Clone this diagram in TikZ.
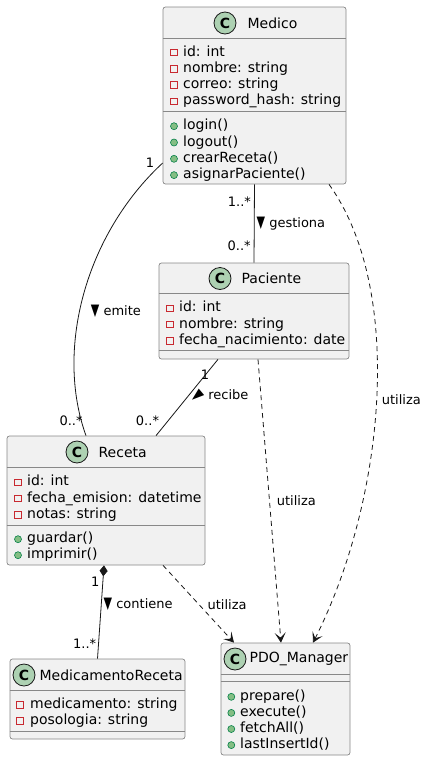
\documentclass[tikz,border=0pt]{standalone}
\usepackage{fontspec}
\setmainfont{DejaVu Sans}
\usepackage{graphicx}
\usepackage{tikz}
\usetikzlibrary{arrows.meta, positioning, calc}

\definecolor{boxfill}{HTML}{F1F1F1}
\definecolor{boxline}{HTML}{888888}
\definecolor{circfill}{HTML}{ADD1B2}
\definecolor{edgecol}{HTML}{181818}
\definecolor{privred}{HTML}{C82930}
\definecolor{pubfill}{HTML}{84BE84}
\definecolor{publine}{HTML}{038048}

\newcommand{\dirdown}{\scalebox{0.85}[1.25]{▼}}
\newcommand{\dirrecv}{\rotatebox[origin=c]{40}{\scalebox{1.25}[0.85]{◀}}}

\begin{document}
\begin{tikzpicture}[x=1pt, y=-1pt,
    classbox/.style={draw=boxline, fill=boxfill, rounded corners=2.5pt, line width=0.7pt, inner sep=0},
    classicon/.style={circle, draw=edgecol, fill=circfill, line width=0.8pt, minimum size=22pt, inner sep=0, font=\bfseries\fontsize{14}{14}\selectfont},
    classname/.style={inner sep=0, font=\fontsize{14}{16}\selectfont},
    member/.style={anchor=west, inner sep=0, text height=11pt, text depth=1pt, font=\fontsize{14}{16}\selectfont},
    priv/.style={rectangle, draw=privred, line width=0.8pt, minimum size=6.5pt, inner sep=0},
    publ/.style={circle, draw=publine, fill=pubfill, line width=0.6pt, minimum size=7pt, inner sep=0},
    divider/.style={draw=boxline, line width=0.7pt},
    link/.style={draw=edgecol, line width=0.8pt},
    uses/.style={link, dash pattern=on 5pt off 4pt, -{Stealth[length=10pt, width=11pt, inset=5pt]}},
    lbl/.style={inner sep=1pt, font=\fontsize{13}{15}\selectfont}]
  \fill[white] (0,0) rectangle (427,761);
  \useasboundingbox (0,0) rectangle (427,761);

  % Medico
  \node[classbox, minimum width=183pt, minimum height=177pt] (medico) at (254.5,95.5) {};
  \node[classicon] (medico-c) at (225,23) {C};
  \node[classname, right=11pt of medico-c] (medico-n) {Medico};
  \draw[divider] ($(medico.north west)+(0,32)$) -- ($(medico.north east)+(0,32)$);
  \draw[divider] ($(medico.north west)+(0,105)$) -- ($(medico.north east)+(0,105)$);
  \foreach \txt [count=\i from 0] in {id: int, nombre: string, correo: string, password\_hash: string} {
    \node[priv] (medico-pa\i) at (174, 52.5+16.3*\i) {};
    \node[member] (medico-a\i) at (183, 51+16.3*\i) {\txt};
  }
  \foreach \txt [count=\i from 0] in {login(), logout(), crearReceta(), asignarPaciente()} {
    \node[publ] (medico-pm\i) at (174, 126.2+16.3*\i) {};
    \node[member] (medico-m\i) at (183, 124.7+16.3*\i) {\txt};
  }

  % Paciente
  \node[classbox, minimum width=190pt, minimum height=96pt] (paciente) at (254,311) {};
  \node[classicon] (paciente-c) at (220,278.5) {C};
  \node[classname, right=10pt of paciente-c] (paciente-n) {Paciente};
  \draw[divider] ($(paciente.north west)+(0,31)$) -- ($(paciente.north east)+(0,31)$);
  \draw[divider] ($(paciente.north west)+(0,88)$) -- ($(paciente.north east)+(0,88)$);
  \foreach \txt [count=\i from 0] in {id: int, nombre: string, fecha\_nacimiento: date} {
    \node[priv] (paciente-pa\i) at (170, 308.2+16.3*\i) {};
    \node[member] (paciente-a\i) at (179, 306.7+16.3*\i) {\txt};
  }

  % Receta
  \node[classbox, minimum width=198pt, minimum height=129pt] (receta) at (106,500.5) {};
  \node[classicon] (receta-c) at (77,452) {C};
  \node[classname, right=10pt of receta-c] (receta-n) {Receta};
  \draw[divider] ($(receta.north west)+(0,32)$) -- ($(receta.north east)+(0,32)$);
  \draw[divider] ($(receta.north west)+(0,90)$) -- ($(receta.north east)+(0,90)$);
  \foreach \txt [count=\i from 0] in {id: int, fecha\_emision: datetime, notas: string} {
    \node[priv] (receta-pa\i) at (18, 482.2+16.3*\i) {};
    \node[member] (receta-a\i) at (27, 480.7+16.3*\i) {\txt};
  }
  \foreach \txt [count=\i from 0] in {guardar(), imprimir()} {
    \node[publ] (receta-pm\i) at (18, 539.2+16*\i) {};
    \node[member] (receta-m\i) at (27, 537.7+16*\i) {\txt};
  }

  % MedicamentoReceta
  \node[classbox, minimum width=175pt, minimum height=80pt] (medicamento) at (97.5,699) {};
  \node[classicon] (medicamento-c) at (24,675) {C};
  \node[classname, right=4pt of medicamento-c] (medicamento-n) {MedicamentoReceta};
  \draw[divider] ($(medicamento.north west)+(0,32)$) -- ($(medicamento.north east)+(0,32)$);
  \draw[divider] ($(medicamento.north west)+(0,73)$) -- ($(medicamento.north east)+(0,73)$);
  \foreach \txt [count=\i from 0] in {medicamento: string, posologia: string} {
    \node[priv] (medicamento-pa\i) at (20, 704.8+16*\i) {};
    \node[member] (medicamento-a\i) at (30, 703.3+16*\i) {\txt};
  }

  % PDO_Manager
  \node[classbox, minimum width=129pt, minimum height=112pt] (pdo) at (285.5,699) {};
  \node[classicon] (pdo-c) at (235,659) {C};
  \node[classname, right=3pt of pdo-c] (pdo-n) {PDO\_Manager};
  \draw[divider] ($(pdo.north west)+(0,32)$) -- ($(pdo.north east)+(0,32)$);
  \draw[divider] ($(pdo.north west)+(0,39)$) -- ($(pdo.north east)+(0,39)$);
  \foreach \txt [count=\i from 0] in {prepare(), execute(), fetchAll(), lastInsertId()} {
    \node[publ] (pdo-pm\i) at (231.3, 696.8+16.1*\i) {};
    \node[member] (pdo-m\i) at (240, 695.3+16.1*\i) {\txt};
  }

  % associations
  \draw[link] (medico.south) -- (paciente.north)
    node[lbl, pos=0.215, anchor=east, xshift=-2pt] {1..*}
    node[lbl, pos=0.79, anchor=east, xshift=-2pt] {0..*}
    node[lbl, pos=0.506, anchor=west, xshift=1pt] {\dirdown\ gestiona};
  \draw[link] ([yshift=-67.5pt]medico.west) .. controls (85,235) and (55,350) .. ([xshift=-20pt]receta.north)
    node[lbl, pos=0, anchor=east, xshift=-7pt] {1}
    node[lbl, pos=0.557, anchor=west, xshift=10pt] {\dirdown\ emite}
    node[lbl, pos=1, anchor=south east, xshift=-2pt, yshift=9pt] {0..*};
  \draw[link] ([xshift=-36pt]paciente.south) -- ([xshift=50pt]receta.north)
    node[lbl, pos=0.2, anchor=east, xshift=5pt] {1}
    node[lbl, pos=0.8, anchor=east, xshift=-8pt] {0..*}
    node[lbl, pos=0.487, anchor=west] {\dirrecv\ recibe};
  \draw[link, {Diamond[length=11pt, width=8pt]}-] ([xshift=-2pt]receta.south) -- (medicamento.north)
    node[lbl, pos=0.18, anchor=east, xshift=-2pt] {1}
    node[lbl, pos=0.84, anchor=east, xshift=-1pt] {1..*}
    node[lbl, pos=0.415, anchor=west, xshift=1pt] {\dirdown\ contiene};

  % dependencies
  \draw[uses] ([xshift=57pt]receta.south) -- ([xshift=-51.5pt]pdo.north)
    node[lbl, pos=0.51, anchor=west, xshift=7pt] {utiliza};
  \draw[uses] ([xshift=4pt]paciente.south) -- ([xshift=-4.5pt]pdo.north)
    node[lbl, pos=0.5, anchor=west, xshift=6pt] {utiliza};
  \draw[uses] ([xshift=74.5pt]medico.south) .. controls (405,290) and (385,500) .. ([xshift=27.5pt]pdo.north)
    node[lbl, pos=0.5, anchor=west, xshift=4pt] {utiliza};
\end{tikzpicture}
\end{document}
